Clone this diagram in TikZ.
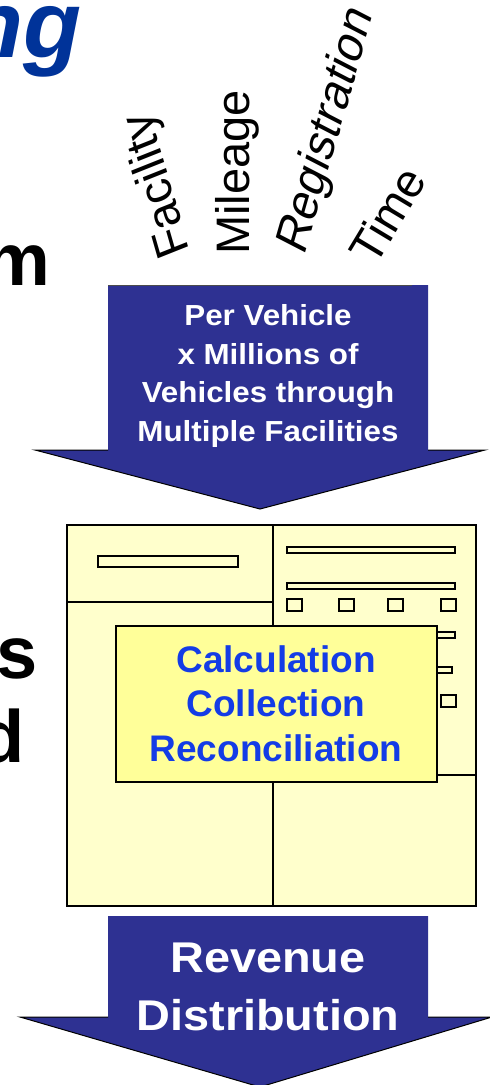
\documentclass[tikz,border=0pt]{standalone}
\usepackage{fontspec}
\setmainfont{Liberation Sans}
\definecolor{arrowblue}{RGB}{46,49,146}
\definecolor{formyellow}{RGB}{255,255,204}
\definecolor{boxyellow}{RGB}{255,255,153}
\definecolor{calcblue}{RGB}{20,60,230}
\definecolor{titleblue}{RGB}{0,51,153}
\begin{document}
\begin{tikzpicture}[x=1pt,y=-1pt,
  lbl/.style={inner sep=0pt, font=\fontsize{47}{47}\selectfont, anchor=base west},
  toptxt/.style={inner sep=0pt, text=white, anchor=base, xscale=1.08, font=\fontsize{29}{29}\selectfont\bfseries},
  bottxt/.style={inner sep=0pt, text=white, anchor=base, xscale=1.09, font=\fontsize{43}{43}\selectfont\bfseries},
  calctxt/.style={inner sep=0pt, text=calcblue, anchor=base, font=\fontsize{37}{37}\selectfont\bfseries},
  sidetxt/.style={inner sep=0pt, anchor=base east, font=\fontsize{74}{74}\selectfont\bfseries},
  arrowbody/.style={fill=arrowblue, draw=none},
  arrowedge/.style={draw=black, line width=1pt, line join=miter},
  formline/.style={draw=black, line width=2pt},
  formbar/.style={draw=black, fill=formyellow, line width=1.3pt}
]
\useasboundingbox (0,0) rectangle (490,1085);

% cropped slide text on the left
\node[inner sep=0pt, anchor=base east, text=titleblue, font=\fontsize{95}{95}\selectfont\bfseries\itshape] (title) at (82,57) {ng};
\node[sidetxt] (sidem) at (50,285) {m};
\node[sidetxt] (sides) at (38,678) {s};
\node[sidetxt] (sided) at (25,762) {d};

% fanned labels
\node[lbl, rotate=106, xslant=-0.1] (fac) at (190,251) {Facility};
\node[lbl, rotate=90] (mil) at (249,255) {Mileage};
\node[lbl, rotate=74, xslant=0.2] (reg) at (304,257) {Registration};
\node[lbl, rotate=59] (tim) at (375,268) {Time};

% top arrow
\path[arrowbody] (108,285) -- (428,285) -- (428,450) -- (485,450) -- (260,509) -- (35,450) -- (108,450) -- cycle;
\draw[arrowedge] (108,450) -- (35,450) -- (260,509) -- (485,450) -- (428,450);
\draw[black!70, line width=0.8pt] (108,285) -- (412,285);
\node[toptxt] (t1) at (268,325) {Per Vehicle};
\node[toptxt] (t2) at (268,364) {x Millions of};
\node[toptxt] (t3) at (268,402) {Vehicles through};
\node[toptxt] (t4) at (268,441) {Multiple Facilities};

% form
\draw[formline, fill=formyellow] (67,525) rectangle (476,906);
\draw[formline] (273,525) -- (273,906);
\draw[formline] (67,602) -- (273,602);
\draw[formline] (273,775) -- (476,775);
\draw[formbar] (98,556) rectangle (238,567);
\draw[formbar] (287,547) rectangle (455,553);
\draw[formbar] (287,583) rectangle (455,589);
\draw[formbar] (287,599) rectangle (302,611);
\draw[formbar] (339,599) rectangle (354,611);
\draw[formbar] (388,599) rectangle (403,611);
\draw[formbar] (441,599) rectangle (456,611);
\draw[formbar] (287,632) rectangle (455,638);
\draw[formbar] (287,667) rectangle (452,673);
\draw[formbar] (441,695) rectangle (456,707);

% front box
\draw[draw=black, line width=2.5pt, fill=boxyellow] (116,626) rectangle (437,782);
\node[calctxt] (c1) at (276,672) {Calculation};
\node[calctxt] (c2) at (276,716) {Collection};
\node[calctxt] (c3) at (276,761) {Reconciliation};

% bottom arrow
\path[arrowbody] (108,916) -- (428,916) -- (428,1017) -- (492,1017) -- (260,1087) -- (20,1017) -- (108,1017) -- cycle;
\draw[arrowedge] (108,1017) -- (20,1017) -- (260,1087) -- (492,1017) -- (428,1017);
\node[bottxt] (r1) at (268,972) {Revenue};
\node[bottxt] (r2) at (268,1030) {Distribution};
\end{tikzpicture}
\end{document}
